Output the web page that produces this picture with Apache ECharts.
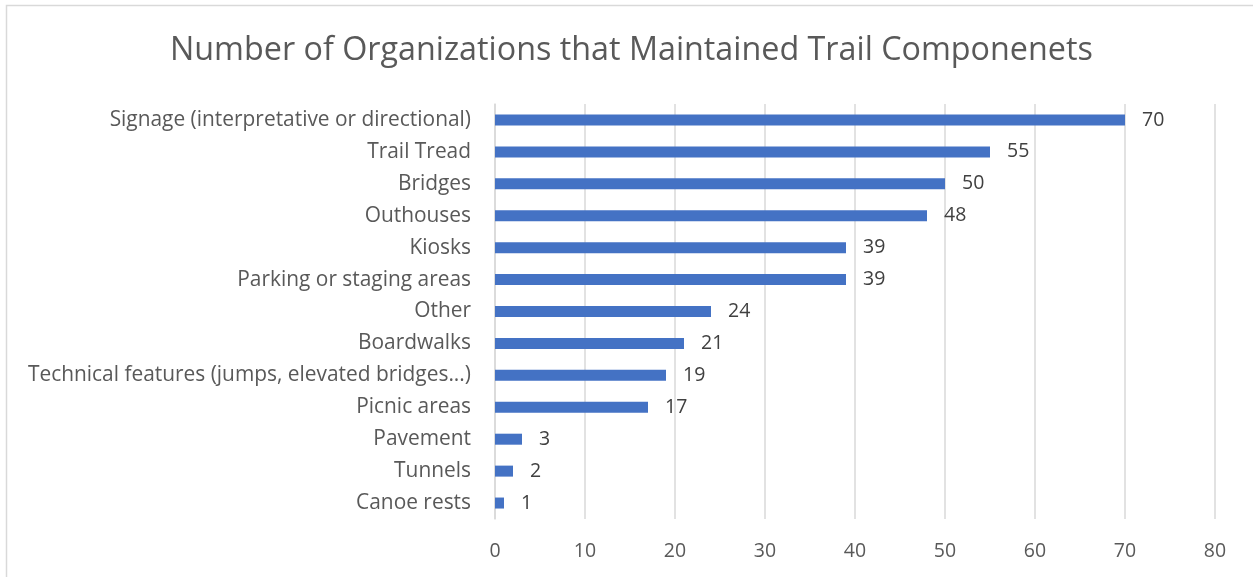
<!DOCTYPE html>
<html>
<head>
<meta charset="utf-8">
<script src="https://cdn.jsdelivr.net/npm/echarts@6/dist/echarts.min.js"></script>
<style>html,body{margin:0;padding:0;background:#fff}#c{width:1253px;height:577px}</style>
</head>
<body>
<div id="c"></div>
<script>
const categories = [
  "Signage (interpretative or directional)",
  "Trail Tread",
  "Bridges",
  "Outhouses",
  "Kiosks",
  "Parking or staging areas",
  "Other",
  "Boardwalks",
  "Technical features (jumps, elevated bridges...)",
  "Picnic areas",
  "Pavement",
  "Tunnels",
  "Canoe rests"
];
const values = [70, 55, 50, 48, 39, 39, 24, 21, 19, 17, 3, 2, 1];
const titleText = "Number of Organizations that Maintained Trail Componenets";

const font = "'Open Sans', Lato, sans-serif";
const chart = echarts.init(document.getElementById('c'));
chart.setOption({
  animation: false,
  backgroundColor: '#fff',
  title: {
    text: titleText,
    left: 170,
    top: 35,
    padding: 0,
    textStyle: { fontFamily: font, fontSize: 32.3, fontWeight: 'normal', color: '#595959' }
  },
  graphic: [{
    type: 'rect',
    shape: { x: 6.5, y: 5.5, width: 1300, height: 700 },
    style: { fill: 'none', stroke: '#d9d9d9', lineWidth: 1.5 },
    silent: true
  }],
  grid: { left: 495, right: 38, top: 104, bottom: 58, containLabel: false },
  xAxis: {
    type: 'value', min: 0, max: 80, interval: 10,
    axisLine: { show: false }, axisTick: { show: false },
    splitLine: { lineStyle: { color: '#d9d9d9', width: 1.5 } },
    axisLabel: { fontFamily: font, fontSize: 19.5, color: '#595959', margin: 22 }
  },
  yAxis: {
    type: 'category', data: categories, inverse: true,
    axisLine: { show: true, lineStyle: { color: '#d9d9d9', width: 1.5 } },
    axisTick: { show: false },
    axisLabel: { fontFamily: font, fontSize: 20.9, color: '#595959', margin: 24, padding: [4, 0, 0, 0] }
  },
  series: [{
    type: 'bar', data: values, barWidth: 11,
    itemStyle: { color: '#4472C4' },
    label: { show: true, position: 'right', distance: 17, fontFamily: font, fontSize: 19.5, color: '#404040', padding: [4, 0, 0, 0] }
  }]
});
</script>
</body>
</html>
